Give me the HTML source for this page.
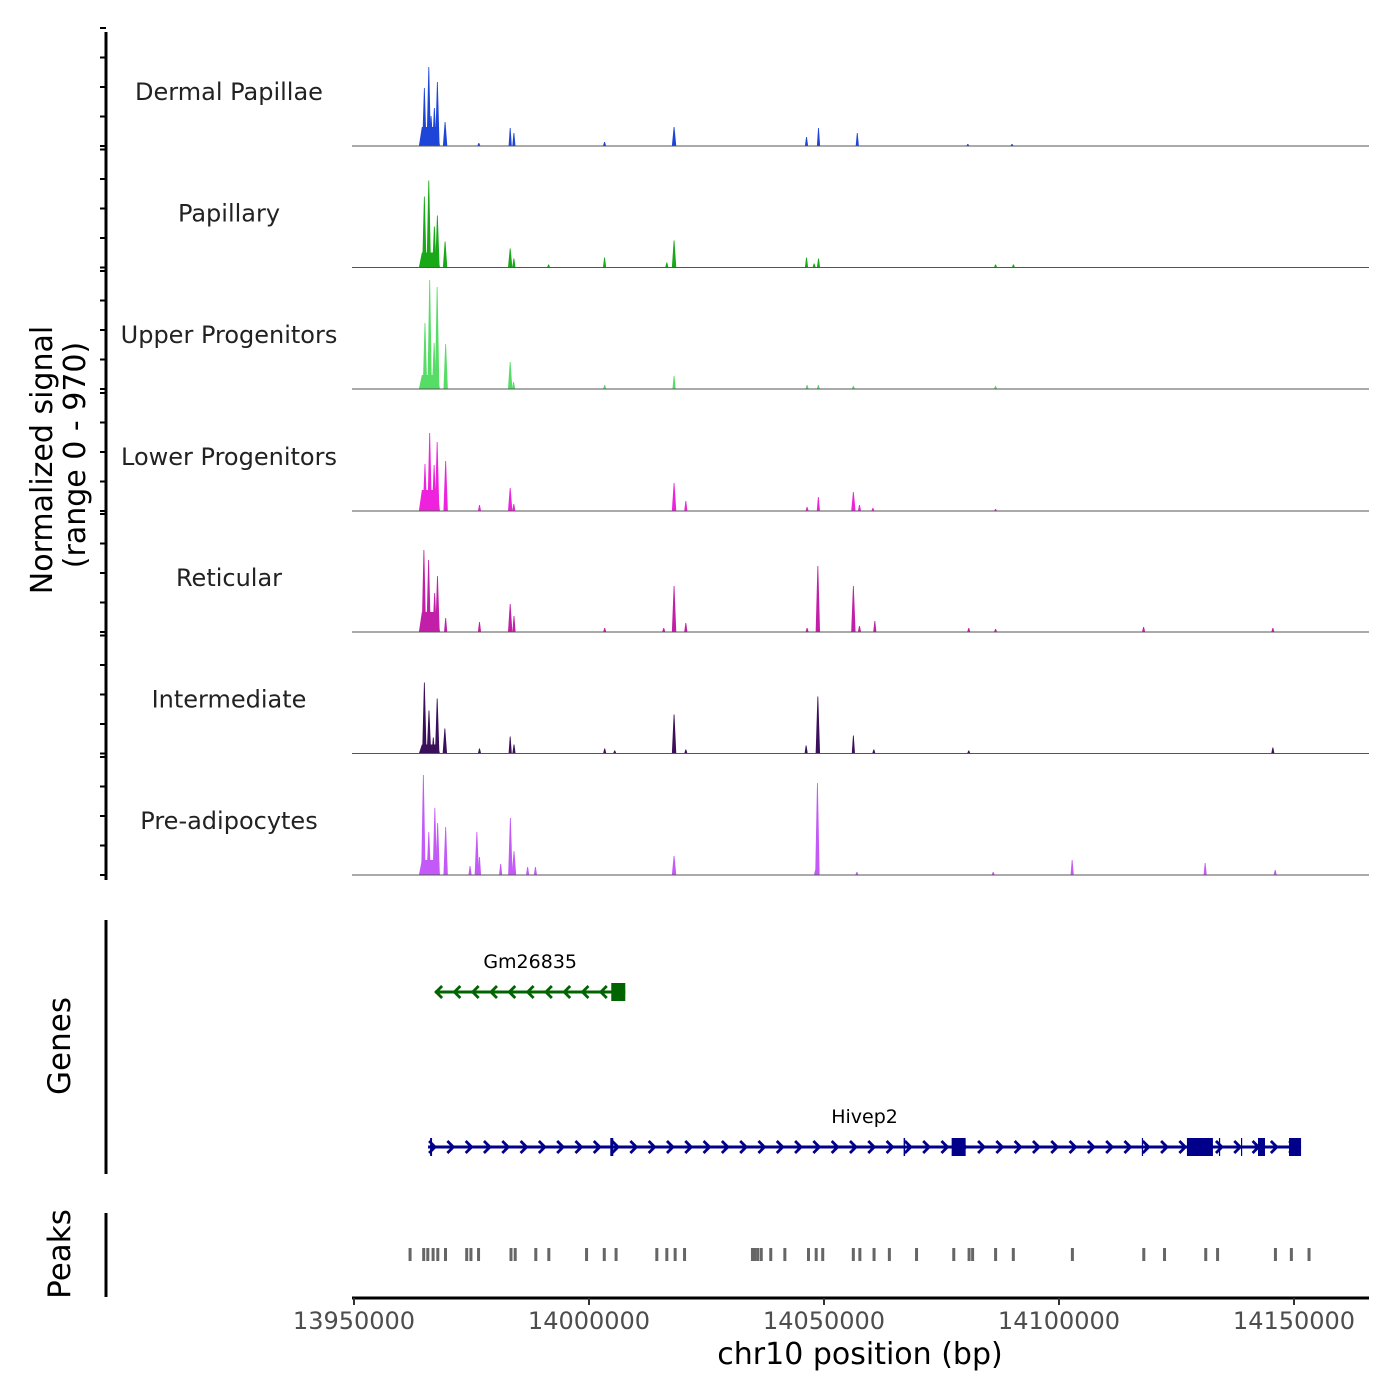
<!DOCTYPE html>
<html><head><meta charset="utf-8"><style>
html,body{margin:0;padding:0;background:#fff;}
svg{display:block;font-family:"DejaVu Sans","Liberation Sans",sans-serif;}
</style></head><body>
<svg id="chart" width="1400" height="1400" viewBox="0 0 1400 1400"></svg>
<script>
// ---- data ----
const trackNames = ["Dermal Papillae","Papillary","Upper Progenitors","Lower Progenitors","Reticular","Intermediate","Pre-adipocytes"];
const trackColors = ["#1d45d8","#18a818","#55dd66","#ee22dd","#c21fa8","#3b0f5a","#c35af7"];
const xTicks = [13950000,14000000,14050000,14100000,14150000];
const xTickLabels = ["13950000","14000000","14050000","14100000","14150000"];
// spike positions (bp) and signal values per track
const dpPos = [13964970,13965910,13966400,13967100,13967740,13969380,13976560,13983230,13984020,14003310,14018100,14046280,14048830,14057080,14080600,14090000];
const dpVal = [477,650,247,313,527,198,25,148,107,33,156,74,148,107,16,16];
const papPos = [13964970,13965910,13967100,13967740,13969380,13983230,13984020,13991400,14003310,14016560,14018100,14046280,14047900,14048830,14086500,14090300];
const papVal = [584,716,337,428,214,156,74,25,82,41,222,82,33,74,25,25];
const upPos = [13965100,13966100,13967050,13967690,13969500,13983230,13983950,14003340,14018100,14046400,14048800,14056250,14086500];
const upVal = [543,897,379,840,370,222,58,33,107,33,33,25,25];
const lpPos = [13965100,13966100,13967050,13967690,13969500,13976700,13983230,13984000,14018100,14020600,14046400,14048800,14056250,14057550,14060400,14086500];
const lpVal = [387,642,379,568,412,49,189,58,230,82,33,115,156,49,25,16];
const retPos = [13964870,13965870,13967160,13967760,13969500,13976700,13983230,13984040,14003340,14015900,14018100,14020600,14046400,14048690,14056250,14057550,14060810,14080800,14118000,14145500,14086500];
const retVal = [675,593,321,461,115,82,230,132,33,33,379,74,33,543,379,49,91,33,41,33,25];
const intPos = [13964970,13965950,13966870,13967700,13969330,13976700,13983230,13984040,14003340,14005470,14018100,14020600,14046200,14048690,14056250,14060600,14145500,14080800];
const intVal = [584,354,132,453,206,41,140,74,41,25,321,33,66,469,148,33,49,25];
const prePos = [13964760,13965910,13967200,13967800,13969500,13974690,13976140,13976700,13981200,13983270,13984040,13986940,13988600,14018100,14048600,14048200,14102800,14131100,14146000,14057000,14086000];
const preVal = [823,354,551,428,395,74,354,148,91,469,197,66,66,156,757,41,123,99,41,25,25];
const plateauStart = [13963800,13963800,13963800,13963800,13963800,13963800,13963800];
const plateauEnd = [13968300,13968300,13968300,13968300,13968300,13968300,13968300];
const plateauVal = [156,123,115,173,165,74,123];
const peakPos = [13961930,13964830,13965700,13966830,13967830,13969470,13973980,13974880,13976500,13983400,13984300,13988680,13991450,13999480,14003250,14005760,14014430,14016560,14018330,14020330,14034780,14035290,14035900,14036650,14038670,14041670,14046700,14048340,14049730,14056240,14057630,14060650,14063910,14069690,14077610,14080870,14081620,14086510,14090280,14102850,14118040,14122450,14131220,14133740,14146050,14149440,14153200];
const gm26835 = {name:"Gm26835", start:13967250, end:14007720, strand:-1, exons:[[14004740,14007720]]};
const hivep2 = {name:"Hivep2", start:13965760, end:14151500, strand:1, exons:[[13966190,13966610],[14004530,14005170],[14066940,14067260],[14077160,14080140],[14117630,14117840],[14127220,14132750],[14134030,14134250],[14138720,14138930],[14142340,14143830],[14148940,14151500]]};
const trackSeries = [[dpPos,dpVal],[papPos,papVal],[upPos,upVal],[lpPos,lpVal],[retPos,retVal],[intPos,intVal],[prePos,preVal]];

// ---- scales ----
const X0=352, X1=1369;
function xs(bp){ return 354 + (bp-13950000)*235/50000; }
const baselines=[146,267.5,389,511,632,753.5,875];
const trackH=121.5, yMax=1000;
function ys(v,i){ return baselines[i] - v/yMax*trackH; }

const svg=document.getElementById('chart');
const NS='http://www.w3.org/2000/svg';
function mk(tag,attrs,parent){const e=document.createElementNS(NS,tag);for(const k in attrs)e.setAttribute(k,attrs[k]);(parent||svg).appendChild(e);return e;}

// left axis
const ax=mk('line',{x1:106,y1:32,x2:106,y2:880,stroke:'#000','stroke-width':3});


baselines.forEach((b,i)=>{
  for(let k=0;k<5;k++){
    const y=b-k*29.5;
    const t=mk('line',{x1:100,y1:y,x2:106,y2:y,stroke:'#000','stroke-width':2});
    
    
  }
});
const yt=mk('text',{x:0,y:0,transform:'translate(52,460) rotate(-90)','text-anchor':'middle','font-size':30,fill:'#000'});
yt.textContent='Normalized signal';


const yt2=mk('text',{x:0,y:0,transform:'translate(85,455) rotate(-90)','text-anchor':'middle','font-size':30,fill:'#000'});
yt2.textContent='(range 0 - 970)';



// tracks
trackSeries.forEach((s,i)=>{
  const g=mk('g',{});
  
  
  const b=baselines[i];
  const lbl=mk('text',{x:229,y:b-46,'text-anchor':'middle','font-size':24,fill:'#222'},g);
  lbl.textContent=trackNames[i];
  
  
  const pa=xs(plateauStart[i]), pb=xs(plateauEnd[i]), py=ys(plateauVal[i],i);
  const pl=mk('path',{d:`M${pa},${b} L${pa+3},${py} L${pb-3},${py} L${pb},${b} Z`,fill:trackColors[i]},g);
  
  
  s[0].forEach((p,j)=>{
    const x=xs(p), y=ys(s[1][j],i), w=s[1][j]>150?2.2:1.6;
    const sp=mk('path',{d:`M${x-w},${b} L${x-0.4},${y} L${x+0.4},${y} L${x+w},${b} Z`,fill:trackColors[i]},g);
    
    
  });
  const bl=mk('line',{x1:X0,y1:b,x2:X1,y2:b,stroke:'#555','stroke-width':1},g);
  
  
});

// genes panel
const ga=mk('line',{x1:106,y1:920,x2:106,y2:1174,stroke:'#000','stroke-width':3});


const gt=mk('text',{x:0,y:0,transform:'translate(70,1046) rotate(-90)','text-anchor':'middle','font-size':31,fill:'#000'});
gt.textContent='Genes';


function drawGene(gene,y,color,labelY){
  const g=mk('g',{});
  
  
  const a=xs(gene.start), e=xs(gene.end);
  mk('line',{x1:a,y1:y,x2:e,y2:y,stroke:color,'stroke-width':3},g);
  const step=18.3;
  for(let x=a+4;x<e-4;x+=step){
    const d=gene.strand>0?`M${x-3},${y-6} L${x+3},${y} L${x-3},${y+6}`:`M${x+3},${y-6} L${x-3},${y} L${x+3},${y+6}`;
    mk('path',{d:d,fill:'none',stroke:color,'stroke-width':2.8},g);
  }
  gene.exons.forEach(ex=>{
    const x1=xs(ex[0]), x2=xs(ex[1]);
    const w=Math.max(x2-x1,1.2);
    const r=mk('rect',{x:x1,y:y-9,width:w,height:18,fill:color},g);
    
    
  });
  const t=mk('text',{x:(a+e)/2,y:labelY,'text-anchor':'middle','font-size':19,fill:'#000'},g);
  t.textContent=gene.name;
  
  
}
drawGene(gm26835,992,'#006400',968);
drawGene(hivep2,1147,'#00008b',1123);

// peaks
const pka=mk('line',{x1:106,y1:1213,x2:106,y2:1297,stroke:'#000','stroke-width':3});


const pt=mk('text',{x:0,y:0,transform:'translate(70,1254) rotate(-90)','text-anchor':'middle','font-size':31,fill:'#000'});
pt.textContent='Peaks';


peakPos.forEach(p=>{
  const r=mk('rect',{x:xs(p)-1.5,y:1248,width:3,height:13,fill:'#666'});
  
  
});

// x axis
const xa=mk('line',{x1:X0,y1:1298,x2:X1,y2:1298,stroke:'#000','stroke-width':3});


xTicks.forEach((t,i)=>{
  const x=xs(t);
  const tk=mk('line',{x1:x,y1:1298,x2:x,y2:1305,stroke:'#333','stroke-width':2});
  
  
  const tl=mk('text',{x:x,y:1329,'text-anchor':'middle','font-size':24,fill:'#4d4d4d'});
  tl.textContent=xTickLabels[i];
  
  
});
const xt=mk('text',{x:860,y:1364,'text-anchor':'middle','font-size':30,fill:'#000'});
xt.textContent='chr10 position (bp)';


</script>
</body></html>
